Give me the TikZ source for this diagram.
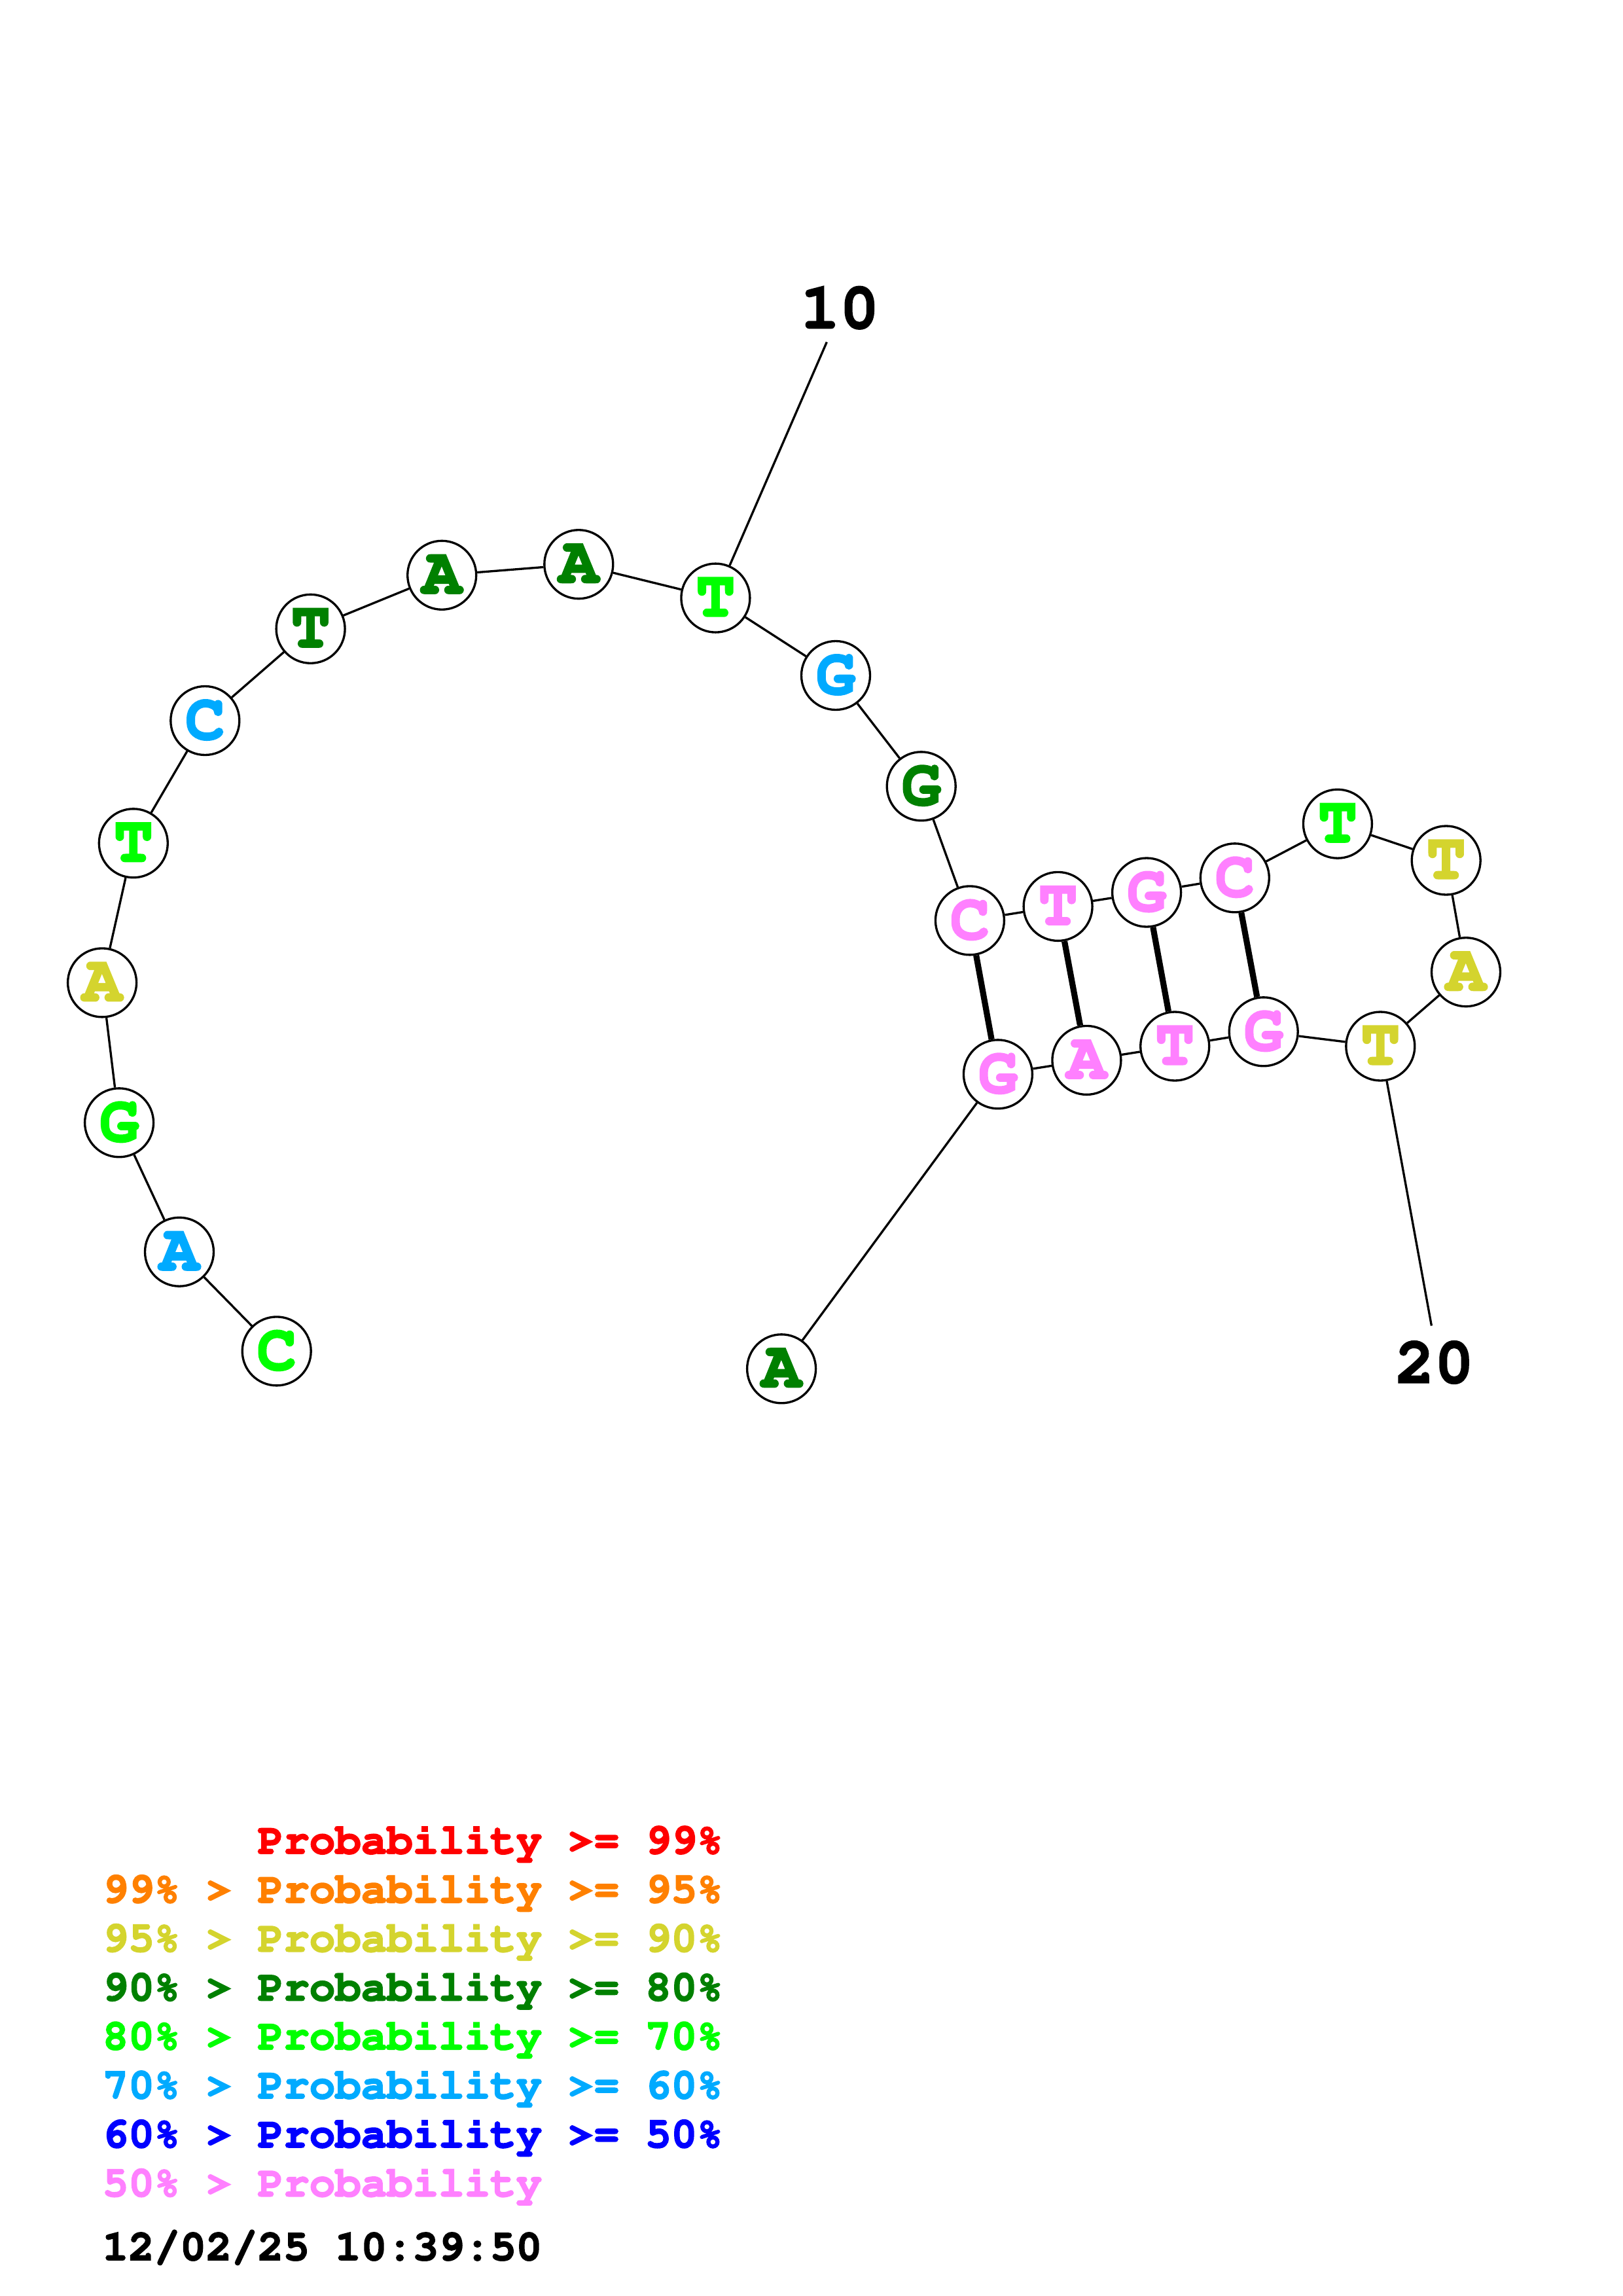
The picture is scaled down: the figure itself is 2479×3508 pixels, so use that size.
\documentclass[tikz,border=0pt]{standalone}
\usepackage{fontspec}
\newcommand\courb{\fontencoding{OT1}\fontfamily{pcr}\fontseries{b}\fontshape{n}\selectfont}
\newcommand\thickglyph[1]{\special{pdf:literal direct 2 Tr #1 w}}
\definecolor{cRed}{RGB}{255,0,0}
\definecolor{cOrange}{RGB}{255,128,0}
\definecolor{cYellow}{RGB}{212,212,46}
\definecolor{cDkGreen}{RGB}{0,128,0}
\definecolor{cGreen}{RGB}{0,255,0}
\definecolor{cLtBlue}{RGB}{0,170,255}
\definecolor{cBlue}{RGB}{0,0,255}
\definecolor{cPink}{RGB}{255,128,255}
\begin{document}
\begin{tikzpicture}[x=0.0084667cm,y=-0.0084667cm,
  nt/.style={circle,draw=black,fill=white,line width=0.8bp,minimum size=0.889cm,inner sep=0pt,
    font=\courb\fontsize{24bp}{24bp}\selectfont,execute at begin node={\thickglyph{0.7}}},
  bb/.style={line width=0.8bp,black},
  bp/.style={line width=2.2bp,black},
  numlab/.style={font=\courb\fontsize{24bp}{24bp}\selectfont,inner sep=0pt,execute at begin node={\thickglyph{0.5}}},
  leg/.style={anchor=base west,inner sep=0pt,font=\courb\fontsize{15.8bp}{15.8bp}\selectfont,execute at begin node={\thickglyph{0.45}}}]
\useasboundingbox (0,0) rectangle (2479,3508);
\fill[white] (0,0) rectangle (2479,3508);
% nucleotides
\node[nt,text=cGreen]   (n1)  at (422.7,2064.4) {C};
\node[nt,text=cLtBlue]  (n2)  at (274,1912.7) {A};
\node[nt,text=cGreen]   (n3)  at (182.1,1715.3) {G};
\node[nt,text=cYellow]  (n4)  at (156.1,1501.4) {A};
\node[nt,text=cGreen]   (n5)  at (203.8,1288.3) {T};
\node[nt,text=cLtBlue]  (n6)  at (313.3,1101) {C};
\node[nt,text=cDkGreen] (n7)  at (474.6,960.8) {T};
\node[nt,text=cDkGreen] (n8)  at (675.2,878.8) {A};
\node[nt,text=cDkGreen] (n9)  at (884.3,862.2) {A};
\node[nt,text=cGreen]   (n10) at (1093.4,913.6) {T};
\node[nt,text=cLtBlue]  (n11) at (1277,1032) {G};
\node[nt,text=cDkGreen] (n12) at (1407.7,1201.3) {G};
\node[nt,text=cPink]    (n13) at (1481.9,1406.4) {C};
\node[nt,text=cPink]    (n14) at (1616.6,1384.9) {T};
\node[nt,text=cPink]    (n15) at (1752.1,1363.5) {G};
\node[nt,text=cPink]    (n16) at (1886.8,1341.3) {C};
\node[nt,text=cGreen]   (n17) at (2043.9,1258.7) {T};
\node[nt,text=cYellow]  (n18) at (2209.7,1314.5) {T};
\node[nt,text=cYellow]  (n19) at (2240,1485.2) {A};
\node[nt,text=cYellow]  (n20) at (2109.3,1598.5) {T};
\node[nt,text=cPink]    (n21) at (1930.7,1576.3) {G};
\node[nt,text=cPink]    (n22) at (1795.2,1598.5) {T};
\node[nt,text=cPink]    (n23) at (1660.4,1619.9) {A};
\node[nt,text=cPink]    (n24) at (1524.9,1641.3) {G};
\node[nt,text=cDkGreen] (n25) at (1194.1,2091.3) {A};
% backbone
\foreach \a/\b in {1/2,2/3,3/4,4/5,5/6,6/7,7/8,8/9,9/10,10/11,11/12,12/13,13/14,14/15,15/16,16/17,17/18,18/19,19/20,20/21,21/22,22/23,23/24,24/25}
  \draw[bb] (n\a) -- (n\b);
% base pairs
\foreach \a/\b in {13/24,14/23,15/22,16/21}
  \draw[bp] (n\a) -- (n\b);
% numbering
\coordinate (e10) at (1263.3,522.7);
\coordinate (e20) at (2187.4,2025.5);
\draw[bb] (n10) -- (e10);
\draw[bb] (n20) -- (e20);
\node[numlab] (l10) at (1283.3,471.7) {10};
\node[numlab] (l20) at (2192,2083) {20};
% legend
\node[leg,text=cRed]     (g1) at (393,2832) {Probability >= 99\%};
\node[leg,text=cOrange]  (g2) at (156,2906.8) {99\% > Probability >= 95\%};
\node[leg,text=cYellow]  (g3) at (156,2981.6) {95\% > Probability >= 90\%};
\node[leg,text=cDkGreen] (g4) at (156,3056.4) {90\% > Probability >= 80\%};
\node[leg,text=cGreen]   (g5) at (156,3131.2) {80\% > Probability >= 70\%};
\node[leg,text=cLtBlue]  (g6) at (156,3206) {70\% > Probability >= 60\%};
\node[leg,text=cBlue]    (g7) at (156,3280.8) {60\% > Probability >= 50\%};
\node[leg,text=cPink]    (g8) at (156,3355.6) {50\% > Probability};
\node[leg,text=black]    (g9) at (156,3453) {12/02/25 10:39:50};
\end{tikzpicture}
\end{document}
